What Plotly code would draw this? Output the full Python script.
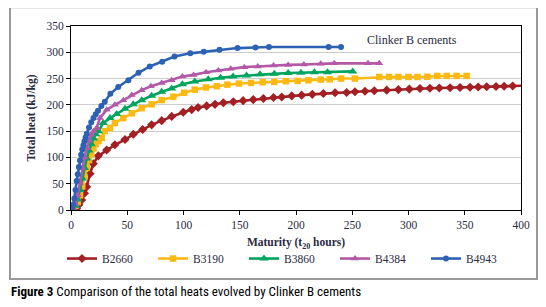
import plotly.graph_objects as go

# ---- data ----
b2660_x = [0, 2, 5, 7, 9.5, 12, 13.9, 16.9, 19.8, 24.3, 31.7, 39, 48, 55.4, 63.7, 71.7, 80.6, 89.5, 99.8,
           107.3, 113, 120.6, 128, 135.4, 144.3, 153, 162, 171, 180, 187.3, 196.2, 205, 214.5, 224.3,
           234.7, 245, 252.4, 261.3, 269.6, 280.6, 291, 300.7, 310.2, 319, 327.4, 337, 345.8, 354.7,
           362, 369.5, 377.8, 385, 392.6, 404]
b2660_y = [0, 0, 3, 10, 19, 32, 44, 69, 88, 103, 114, 124, 134, 144, 153, 162, 170, 178, 186,
           191, 195, 198, 201, 204, 206, 208, 210, 212, 214, 215, 217, 218.5, 220, 221.5,
           223, 223.5, 225, 226, 226.7, 228, 229, 230, 231, 231.5, 232, 232.5, 233, 233.5,
           234, 234.5, 235, 235.5, 236, 236.5]

b3190_x = [0, 2, 4, 6, 8, 10, 12, 14, 16, 18, 20, 22, 24.5, 27.3, 30, 34.7, 39, 46.5, 54, 62.8, 71.7,
           80.6, 91, 100.5, 110, 120, 129.5, 139, 149.3, 160, 170.4, 180.7, 191, 201.5, 211, 222,
           230, 240, 252.4, 274, 282.7, 291, 300, 308, 316.7, 325.6, 334, 342.8, 351.7]
b3190_y = [3, 4, 8, 15, 28, 45, 63, 80, 95, 107, 117, 125, 131, 137, 150, 156, 165.5, 175, 184, 193.5, 201,
           209, 215.5, 223, 229, 233, 235.5, 238.5, 240.5, 241.7, 243, 243.6, 245, 245.5, 246.7, 248,
           248.6, 250, 250, 253, 253, 253, 253, 253, 253.5, 255, 255, 255, 255]

b3860_x = [0, 2, 4, 6, 8, 10, 12, 14, 16, 18, 20, 22, 24.3, 28.7, 34.7, 40.6, 48, 55.4, 62.8, 71.7, 80.6,
           89.5, 99, 110, 122, 133, 144, 156, 168, 180.7, 193, 204.4, 216.3, 228, 250.4]
b3860_y = [0, 2, 8, 20, 38, 60, 80, 98, 113, 125, 136, 144, 150, 165.5, 175, 182.6, 192.4, 201, 209, 217.4, 224.8,
           231, 239, 244.5, 248.6, 251.7, 254, 256, 258, 259, 260.5, 261, 262, 262, 263.6]

b4384_x = [0, 2, 4, 6, 8, 10, 12, 14, 16, 18, 20, 22.8, 25.8, 31.7, 39, 46.5, 54, 62.8, 71, 80.6, 89.5,
           99, 109, 120, 131, 142, 154, 166, 180, 193, 207, 222, 234, 264, 274]
b4384_y = [0, 3, 12, 28, 52, 80, 100, 118, 132, 143, 150, 156, 175, 190.5, 200, 209, 218.6, 228, 235.5, 241.7, 246.7,
           254, 257, 262, 265.5, 268.5, 271.7, 273, 274.8, 276, 276.7, 278, 279, 279, 279]

b4943_x = [0, 1, 2, 3, 4, 5, 6, 7, 8, 9, 10, 11, 12, 13, 14, 16, 18, 20, 22, 24, 27, 30, 35, 42, 51, 60,
           70, 81, 92, 106, 118, 132, 148, 164, 176, 229, 240]
b4943_y = [0, 3, 10, 22, 38, 55, 68, 82, 94, 105, 115, 123, 131, 138, 145, 157, 167, 175, 182, 189, 198, 206,
           221, 234, 247, 261, 273, 282, 292, 298, 301, 305, 308, 309, 310, 310, 310]

series_names = ["B2660", "B3190", "B3860", "B4384", "B4943"]
x_ticks = [0, 50, 100, 150, 200, 250, 300, 350, 400]
y_ticks = [0, 50, 100, 150, 200, 250, 300, 350]

series = [
    (series_names[0], b2660_x, b2660_y, "#A21F23", "diamond", 7),
    (series_names[1], b3190_x, b3190_y, "#FDB913", "square", 6.5),
    (series_names[2], b3860_x, b3860_y, "#00A45E", "triangle-up", 8),
    (series_names[3], b4384_x, b4384_y, "#B458A8", "triangle-up", 7),
    (series_names[4], b4943_x, b4943_y, "#2C62B4", "circle", 6),
]

fig = go.Figure()
for name, xs, ys, col, sym, sz in series:
    fig.add_trace(go.Scatter(
        x=xs, y=ys, name=name, mode="lines+markers",
        line=dict(color=col, width=2.6),
        marker=dict(symbol=sym, size=sz, color=col),
    ))

serif = "Liberation Serif, Times New Roman, serif"
tick_col = "#2a2a40"

# page body has an 8px margin, so the figure is 8px smaller and offset accordingly
fig.update_layout(
    width=538, height=299,
    margin=dict(l=63, r=25, t=15, b=97),
    paper_bgcolor="white", plot_bgcolor="white",
    font=dict(family=serif, size=11.5, color=tick_col),
    showlegend=True,
    legend=dict(orientation="h", x=-0.02, y=-0.185, xanchor="left", yanchor="top",
                font=dict(family=serif, size=11.5, color=tick_col),
                entrywidth=46, itemwidth=30, bgcolor="rgba(0,0,0,0)"),
    xaxis=dict(range=[0, 400], tickvals=x_ticks, showgrid=False, zeroline=False,
               showline=True, linecolor="black", linewidth=1, mirror=True,
               ticks="outside", ticklen=4, tickcolor="black",
               title=dict(text="<b>Maturity (t<sub>20</sub> hours)</b>", standoff=8,
                          font=dict(family=serif, size=11.5, color=tick_col))),
    yaxis=dict(range=[0, 350], tickvals=y_ticks, showgrid=True, gridcolor="#cccccc", gridwidth=1,
               zeroline=False, showline=True, linecolor="black", linewidth=1, mirror=True,
               ticks="outside", ticklen=4, tickcolor="black",
               title=dict(text="<b>Total heat (kJ/kg)</b>", standoff=8,
                          font=dict(family=serif, size=11.5, color=tick_col))),
)

# outer grey frame
fig.add_shape(type="rect", xref="paper", yref="paper",
              x0=(10 - 71) / 450, x1=(537 - 71) / 450,
              y0=(210 - 280) / 187, y1=(210 - 4) / 187,
              line=dict(color="#999999", width=2), fillcolor="rgba(0,0,0,0)", layer="above")

fig.add_annotation(text="Clinker B cements", xref="paper", yref="paper",
                   x=(365 - 71) / 450, y=(210 - 37) / 187, xanchor="left", yanchor="middle",
                   showarrow=False, font=dict(family=serif, size=12, color=tick_col))

fig.add_annotation(text="<b>Figure 3</b> Comparison of the total heats evolved by Clinker B cements",
                   xref="paper", yref="paper",
                   x=(9 - 71) / 450, y=(210 - 293) / 187, xanchor="left", yanchor="middle",
                   showarrow=False,
                   font=dict(family="Liberation Sans Narrow, Roboto Condensed, Noto Sans, sans-serif",
                             size=13, color="black"))

fig.write_html("out.html")
